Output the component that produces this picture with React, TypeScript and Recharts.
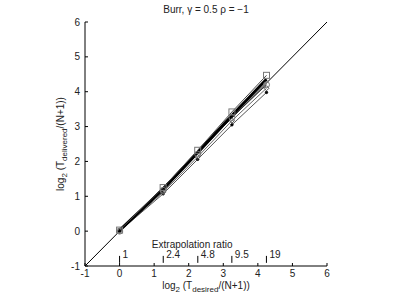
import { LineChart, Line, XAxis, YAxis, ReferenceLine, ReferenceDot } from 'recharts';

// x positions: log2(T_desired/(N+1)) for each extrapolation ratio
const ratioValues = [1, 2.4, 4.8, 9.5, 19];
const ratioLabels = ['1', '2.4', '4.8', '9.5', '19'];
const desiredLog2 = [0, 1.26, 2.26, 3.25, 4.25];

// delivered log2 values
const squareSeries = [0.03, 1.25, 2.32, 3.42, 4.47];
const thickSeries = [0.02, 1.2, 2.26, 3.32, 4.36];
const circleSeries = [0, 1.17, 2.21, 3.26, 4.2];
const diamondSeries = [0, 1.12, 2.13, 3.17, 4.1];
const dotSeries = [0, 1.07, 2.06, 3.05, 3.98];

const axisTicks = [-1, 0, 1, 2, 3, 4, 5, 6];

const data = desiredLog2.map((x, i) => ({
  x,
  sq: squareSeries[i],
  thick: thickSeries[i],
  circ: circleSeries[i],
  dia: diamondSeries[i],
  dot: dotSeries[i],
}));

const FONT = 'Liberation Sans, Arial, sans-serif';
const tickStyle = { fontSize: 10, fill: '#222', fontFamily: FONT };

const SquareDot = (p: any) => (
  <rect key={p.index} x={p.cx - 3} y={p.cy - 3} width={6} height={6} fill="none" stroke="#777" strokeWidth={1} />
);
const DiamondDot = (p: any) => (
  <path key={p.index} d={`M${p.cx},${p.cy - 2.5}L${p.cx + 2.5},${p.cy}L${p.cx},${p.cy + 2.5}L${p.cx - 2.5},${p.cy}Z`} fill="none" stroke="#555" strokeWidth={1} />
);

function XLabel({ viewBox }: any) {
  const cx = viewBox.x + viewBox.width / 2;
  return (
    <text x={cx} y={289} textAnchor="middle" fontSize={10} fontFamily={FONT} fill="#222">
      log<tspan fontSize={8} dy={3}>2</tspan>
      <tspan dy={-3}> (T</tspan>
      <tspan fontSize={8} dy={3}>desired</tspan>
      <tspan dy={-3}>/(N+1))</tspan>
    </text>
  );
}

function YLabel({ viewBox }: any) {
  const cy = viewBox.y + viewBox.height / 2;
  const x = 64;
  return (
    <text x={x} y={cy} transform={`rotate(-90 ${x} ${cy})`} textAnchor="middle" fontSize={10} fontFamily={FONT} fill="#222">
      log<tspan fontSize={8} dy={3}>2</tspan>
      <tspan dy={-3}> (T</tspan>
      <tspan fontSize={8} dy={3}>delivered</tspan>
      <tspan dy={-3}>/(N+1))</tspan>
    </text>
  );
}

export default function App() {
  return (
    <div style={{ position: 'absolute', left: 0, top: 0, width: 398, height: 300, background: '#fff', fontFamily: FONT }}>
      <div style={{ position: 'absolute', left: 85, width: 242, top: 4, textAlign: 'center', fontSize: 10, color: '#222' }}>
        Burr, γ = 0.5 ρ = −1
      </div>
      <LineChart width={398} height={300} data={data} margin={{ top: 22, right: 71, bottom: 0, left: 0 }}>
        <XAxis
          dataKey="x"
          type="number"
          domain={[-1, 6]}
          ticks={axisTicks}
          allowDataOverflow
          height={34}
          tickSize={-3}
          tickMargin={7}
          tick={tickStyle}
          stroke="#000"
          label={<XLabel />}
        />
        <YAxis
          type="number"
          domain={[-1, 6]}
          ticks={axisTicks}
          allowDataOverflow
          width={85}
          tickSize={-3}
          tickMargin={8}
          tick={tickStyle}
          stroke="#000"
          label={<YLabel />}
        />
        <ReferenceLine segment={[{ x: -1, y: -1 }, { x: 6, y: 6 }]} stroke="#000" strokeWidth={1} />
        {ratioValues.map((r, i) => (
          <ReferenceLine
            key={r}
            segment={[{ x: Math.log2(r), y: -0.91 }, { x: Math.log2(r), y: -0.71 }]}
            stroke="#000"
            strokeWidth={1}
            label={({ viewBox }: any) => (
              <text x={viewBox.x + 3} y={viewBox.y + 2} fontSize={10} fontFamily={FONT} fill="#222">
                {ratioLabels[i]}
              </text>
            )}
          />
        ))}
        <ReferenceDot
          x={2.1}
          y={-0.48}
          r={0}
          stroke="none"
          label={({ viewBox }: any) => (
            <text x={viewBox.x + viewBox.width / 2} y={viewBox.y + viewBox.height / 2} textAnchor="middle" fontSize={10} fontFamily={FONT} fill="#222">
              Extrapolation ratio
            </text>
          )}
        />
        <Line dataKey="dot" stroke="#555" strokeWidth={1} dot={{ r: 1.2, fill: '#000', stroke: '#000' }} isAnimationActive={false} />
        <Line dataKey="dia" stroke="#666" strokeWidth={1} dot={DiamondDot} isAnimationActive={false} />
        <Line dataKey="circ" stroke="#333" strokeWidth={1} dot={{ r: 3, fill: 'none', stroke: '#777', strokeWidth: 1 }} isAnimationActive={false} />
        <Line dataKey="thick" stroke="#000" strokeWidth={3} dot={false} isAnimationActive={false} />
        <Line dataKey="sq" stroke="#444" strokeWidth={1} dot={SquareDot} isAnimationActive={false} />
      </LineChart>
    </div>
  );
}
